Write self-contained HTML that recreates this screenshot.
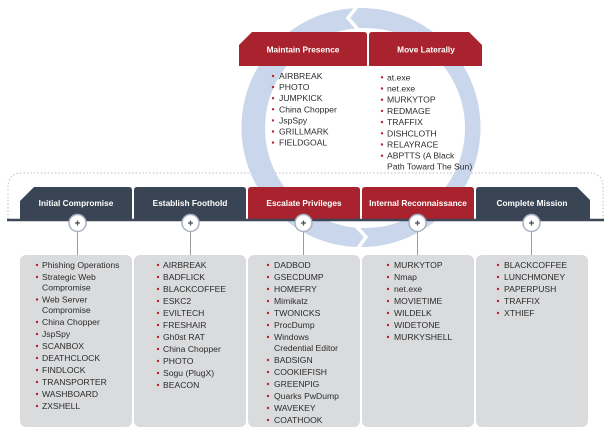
<!DOCTYPE html>
<html>
<head>
<meta charset="utf-8">
<style>
  html,body{margin:0;padding:0;background:#ffffff;}
  body{width:610px;height:444px;overflow:hidden;}
  svg{display:block;}
  .tab{font-family:"Liberation Sans",Arial,sans-serif;font-weight:bold;font-size:8.3px;fill:#ffffff;text-anchor:middle;}
  .li{font-family:"Liberation Sans",Arial,sans-serif;font-size:8.6px;fill:#2b2b2b;}
  .b{fill:#b3262f;}
</style>
</head>
<body>
<svg width="610" height="444" viewBox="0 0 610 444" xmlns="http://www.w3.org/2000/svg">
  <!-- dotted outline -->
  <path d="M8,219 L8,187 Q8,173 22,173 L589,173 Q603,173 603,187 L603,219" fill="none" stroke="#bdbdbd" stroke-width="1" stroke-dasharray="1.5 2"/>

  <!-- ring -->
  <path fill-rule="evenodd" fill="#c9d6ec"
    d="M241.5,127.5 A119.5,119.5 0 1,0 480.5,127.5 A119.5,119.5 0 1,0 241.5,127.5 Z
       M265,128 A100,100 0 1,1 465,128 A100,100 0 1,1 265,128 Z"/>
  <polyline points="359,4 348,18 361,33" fill="none" stroke="#ffffff" stroke-width="3.5" stroke-linejoin="miter"/>
  <polyline points="354,224 366,237 356,251" fill="none" stroke="#ffffff" stroke-width="3.5" stroke-linejoin="miter"/>

  <!-- top tabs -->
  <path d="M239,66 L239,45 L252,32 L364,32 Q367,32 367,35 L367,66 Z" fill="#a8232d"/>
  <path d="M369,66 L369,35 Q369,32 372,32 L469,32 L482,45 L482,66 Z" fill="#a8232d"/>
  <text class="tab" x="303" y="52.5">Maintain Presence</text>
  <text class="tab" x="426" y="52.5">Move Laterally</text>

  <!-- Maintain Presence list -->
  <g>
    <circle class="b" cx="273" cy="76" r="1.2"/><text class="li" x="279" y="79">AIRBREAK</text>
    <circle class="b" cx="273" cy="87.1" r="1.2"/><text class="li" x="279" y="90.1">PHOTO</text>
    <circle class="b" cx="273" cy="98.2" r="1.2"/><text class="li" x="279" y="101.2">JUMPKICK</text>
    <circle class="b" cx="273" cy="109.3" r="1.2"/><text class="li" x="279" y="112.3">China Chopper</text>
    <circle class="b" cx="273" cy="120.4" r="1.2"/><text class="li" x="279" y="123.4">JspSpy</text>
    <circle class="b" cx="273" cy="131.5" r="1.2"/><text class="li" x="279" y="134.5">GRILLMARK</text>
    <circle class="b" cx="273" cy="142.6" r="1.2"/><text class="li" x="279" y="145.6">FIELDGOAL</text>
  </g>
  <!-- Move Laterally list -->
  <g>
    <circle class="b" cx="382" cy="77.3" r="1.2"/><text class="li" x="387" y="80.3">at.exe</text>
    <circle class="b" cx="382" cy="88.5" r="1.2"/><text class="li" x="387" y="91.5">net.exe</text>
    <circle class="b" cx="382" cy="99.7" r="1.2"/><text class="li" x="387" y="102.7">MURKYTOP</text>
    <circle class="b" cx="382" cy="110.9" r="1.2"/><text class="li" x="387" y="113.9">REDMAGE</text>
    <circle class="b" cx="382" cy="122.1" r="1.2"/><text class="li" x="387" y="125.1">TRAFFIX</text>
    <circle class="b" cx="382" cy="133.3" r="1.2"/><text class="li" x="387" y="136.3">DISHCLOTH</text>
    <circle class="b" cx="382" cy="144.5" r="1.2"/><text class="li" x="387" y="147.5">RELAYRACE</text>
    <circle class="b" cx="382" cy="155.7" r="1.2"/><text class="li" x="387" y="158.7">ABPTTS (A Black</text>
    <text class="li" x="387" y="169.5">Path Toward The Sun)</text>
  </g>

  <!-- bottom tabs -->
  <path d="M20,220 L20,201 L34,187 L129,187 Q132,187 132,190 L132,220 Z" fill="#394555"/>
  <path d="M134,220 L134,190 Q134,187 137,187 L243,187 Q246,187 246,190 L246,220 Z" fill="#394555"/>
  <path d="M248,220 L248,190 Q248,187 251,187 L357,187 Q360,187 360,190 L360,220 Z" fill="#a8232d"/>
  <path d="M362,220 L362,190 Q362,187 365,187 L471,187 Q474,187 474,190 L474,220 Z" fill="#a8232d"/>
  <path d="M476,220 L476,190 Q476,187 479,187 L577,187 L590,200 L590,220 Z" fill="#394555"/>
  <text class="tab" x="76" y="206">Initial Compromise</text>
  <text class="tab" x="190" y="206">Establish Foothold</text>
  <text class="tab" x="304" y="206">Escalate Privileges</text>
  <text class="tab" x="418" y="206">Internal Reconnaissance</text>
  <text class="tab" x="532" y="206">Complete Mission</text>

  <!-- bar -->
  <line x1="7" y1="220" x2="604" y2="220" stroke="#3d4757" stroke-width="2.5"/>

  <!-- connectors -->
  <g stroke="#9c9c9c" stroke-width="1">
    <line x1="77.5" y1="231" x2="77.5" y2="256"/>
    <line x1="190.5" y1="231" x2="190.5" y2="256"/>
    <line x1="303.5" y1="231" x2="303.5" y2="256"/>
    <line x1="417.5" y1="231" x2="417.5" y2="256"/>
    <line x1="531.5" y1="231" x2="531.5" y2="256"/>
  </g>

  <!-- list boxes -->
  <g fill="#dadbdd">
    <rect x="20" y="255" width="112" height="172" rx="6"/>
    <rect x="134" y="255" width="112" height="172" rx="6"/>
    <rect x="248" y="255" width="112" height="172" rx="6"/>
    <rect x="362" y="255" width="112" height="172" rx="6"/>
    <rect x="476" y="255" width="112" height="172" rx="6"/>
  </g>

  <!-- plus circles -->
  <g>
    <g transform="translate(77.5,223)">
      <circle r="8.5" fill="#ffffff" stroke="#a9b2c0" stroke-width="1.5"/>
      <path d="M-2.5,0 H2.5 M0,-2.5 V2.5" stroke="#4a4f58" stroke-width="1.3"/>
    </g>
    <g transform="translate(190.5,223)">
      <circle r="8.5" fill="#ffffff" stroke="#a9b2c0" stroke-width="1.5"/>
      <path d="M-2.5,0 H2.5 M0,-2.5 V2.5" stroke="#4a4f58" stroke-width="1.3"/>
    </g>
    <g transform="translate(303.5,223)">
      <circle r="8.5" fill="#ffffff" stroke="#a9b2c0" stroke-width="1.5"/>
      <path d="M-2.5,0 H2.5 M0,-2.5 V2.5" stroke="#4a4f58" stroke-width="1.3"/>
    </g>
    <g transform="translate(417.5,223)">
      <circle r="8.5" fill="#ffffff" stroke="#a9b2c0" stroke-width="1.5"/>
      <path d="M-2.5,0 H2.5 M0,-2.5 V2.5" stroke="#4a4f58" stroke-width="1.3"/>
    </g>
    <g transform="translate(531.5,223)">
      <circle r="8.5" fill="#ffffff" stroke="#a9b2c0" stroke-width="1.5"/>
      <path d="M-2.5,0 H2.5 M0,-2.5 V2.5" stroke="#4a4f58" stroke-width="1.3"/>
    </g>
  </g>

  <!-- Box 1 -->
  <g>
    <circle class="b" cx="37" cy="265" r="1.2"/><text class="li" x="42" y="268">Phishing Operations</text>
    <circle class="b" cx="37" cy="277" r="1.2"/><text class="li" x="42" y="280">Strategic Web</text>
    <text class="li" x="42" y="290.5">Compromise</text>
    <circle class="b" cx="37" cy="299.5" r="1.2"/><text class="li" x="42" y="302.5">Web Server</text>
    <text class="li" x="42" y="313">Compromise</text>
    <circle class="b" cx="37" cy="322" r="1.2"/><text class="li" x="42" y="325">China Chopper</text>
    <circle class="b" cx="37" cy="334" r="1.2"/><text class="li" x="42" y="337">JspSpy</text>
    <circle class="b" cx="37" cy="346" r="1.2"/><text class="li" x="42" y="349">SCANBOX</text>
    <circle class="b" cx="37" cy="358" r="1.2"/><text class="li" x="42" y="361">DEATHCLOCK</text>
    <circle class="b" cx="37" cy="370" r="1.2"/><text class="li" x="42" y="373">FINDLOCK</text>
    <circle class="b" cx="37" cy="382" r="1.2"/><text class="li" x="42" y="385">TRANSPORTER</text>
    <circle class="b" cx="37" cy="394" r="1.2"/><text class="li" x="42" y="397">WASHBOARD</text>
    <circle class="b" cx="37" cy="406" r="1.2"/><text class="li" x="42" y="409">ZXSHELL</text>
  </g>

  <!-- Box 2 -->
  <g>
    <circle class="b" cx="158" cy="265" r="1.2"/><text class="li" x="163" y="268">AIRBREAK</text>
    <circle class="b" cx="158" cy="277" r="1.2"/><text class="li" x="163" y="280">BADFLICK</text>
    <circle class="b" cx="158" cy="289" r="1.2"/><text class="li" x="163" y="292">BLACKCOFFEE</text>
    <circle class="b" cx="158" cy="301" r="1.2"/><text class="li" x="163" y="304">ESKC2</text>
    <circle class="b" cx="158" cy="313" r="1.2"/><text class="li" x="163" y="316">EVILTECH</text>
    <circle class="b" cx="158" cy="325" r="1.2"/><text class="li" x="163" y="328">FRESHAIR</text>
    <circle class="b" cx="158" cy="337" r="1.2"/><text class="li" x="163" y="340">Gh0st RAT</text>
    <circle class="b" cx="158" cy="349" r="1.2"/><text class="li" x="163" y="352">China Chopper</text>
    <circle class="b" cx="158" cy="361" r="1.2"/><text class="li" x="163" y="364">PHOTO</text>
    <circle class="b" cx="158" cy="373" r="1.2"/><text class="li" x="163" y="376">Sogu (PlugX)</text>
    <circle class="b" cx="158" cy="385" r="1.2"/><text class="li" x="163" y="388">BEACON</text>
  </g>

  <!-- Box 3 -->
  <g>
    <circle class="b" cx="268" cy="265" r="1.2"/><text class="li" x="274" y="268">DADBOD</text>
    <circle class="b" cx="268" cy="277" r="1.2"/><text class="li" x="274" y="280">GSECDUMP</text>
    <circle class="b" cx="268" cy="289" r="1.2"/><text class="li" x="274" y="292">HOMEFRY</text>
    <circle class="b" cx="268" cy="301" r="1.2"/><text class="li" x="274" y="304">Mimikatz</text>
    <circle class="b" cx="268" cy="313" r="1.2"/><text class="li" x="274" y="316">TWONICKS</text>
    <circle class="b" cx="268" cy="325" r="1.2"/><text class="li" x="274" y="328">ProcDump</text>
    <circle class="b" cx="268" cy="337" r="1.2"/><text class="li" x="274" y="340">Windows</text>
    <text class="li" x="274" y="351">Credential Editor</text>
    <circle class="b" cx="268" cy="360" r="1.2"/><text class="li" x="274" y="363">BADSIGN</text>
    <circle class="b" cx="268" cy="372" r="1.2"/><text class="li" x="274" y="375">COOKIEFISH</text>
    <circle class="b" cx="268" cy="384" r="1.2"/><text class="li" x="274" y="387">GREENPIG</text>
    <circle class="b" cx="268" cy="396" r="1.2"/><text class="li" x="274" y="399">Quarks PwDump</text>
    <circle class="b" cx="268" cy="408" r="1.2"/><text class="li" x="274" y="411">WAVEKEY</text>
    <circle class="b" cx="268" cy="420" r="1.2"/><text class="li" x="274" y="423">COATHOOK</text>
  </g>

  <!-- Box 4 -->
  <g>
    <circle class="b" cx="388" cy="265" r="1.2"/><text class="li" x="394" y="268">MURKYTOP</text>
    <circle class="b" cx="388" cy="277" r="1.2"/><text class="li" x="394" y="280">Nmap</text>
    <circle class="b" cx="388" cy="289" r="1.2"/><text class="li" x="394" y="292">net.exe</text>
    <circle class="b" cx="388" cy="301" r="1.2"/><text class="li" x="394" y="304">MOVIETIME</text>
    <circle class="b" cx="388" cy="313" r="1.2"/><text class="li" x="394" y="316">WILDELK</text>
    <circle class="b" cx="388" cy="325" r="1.2"/><text class="li" x="394" y="328">WIDETONE</text>
    <circle class="b" cx="388" cy="337" r="1.2"/><text class="li" x="394" y="340">MURKYSHELL</text>
  </g>

  <!-- Box 5 -->
  <g>
    <circle class="b" cx="498" cy="265" r="1.2"/><text class="li" x="504" y="268">BLACKCOFFEE</text>
    <circle class="b" cx="498" cy="277" r="1.2"/><text class="li" x="504" y="280">LUNCHMONEY</text>
    <circle class="b" cx="498" cy="289" r="1.2"/><text class="li" x="504" y="292">PAPERPUSH</text>
    <circle class="b" cx="498" cy="301" r="1.2"/><text class="li" x="504" y="304">TRAFFIX</text>
    <circle class="b" cx="498" cy="313" r="1.2"/><text class="li" x="504" y="316">XTHIEF</text>
  </g>
</svg>
</body>
</html>
